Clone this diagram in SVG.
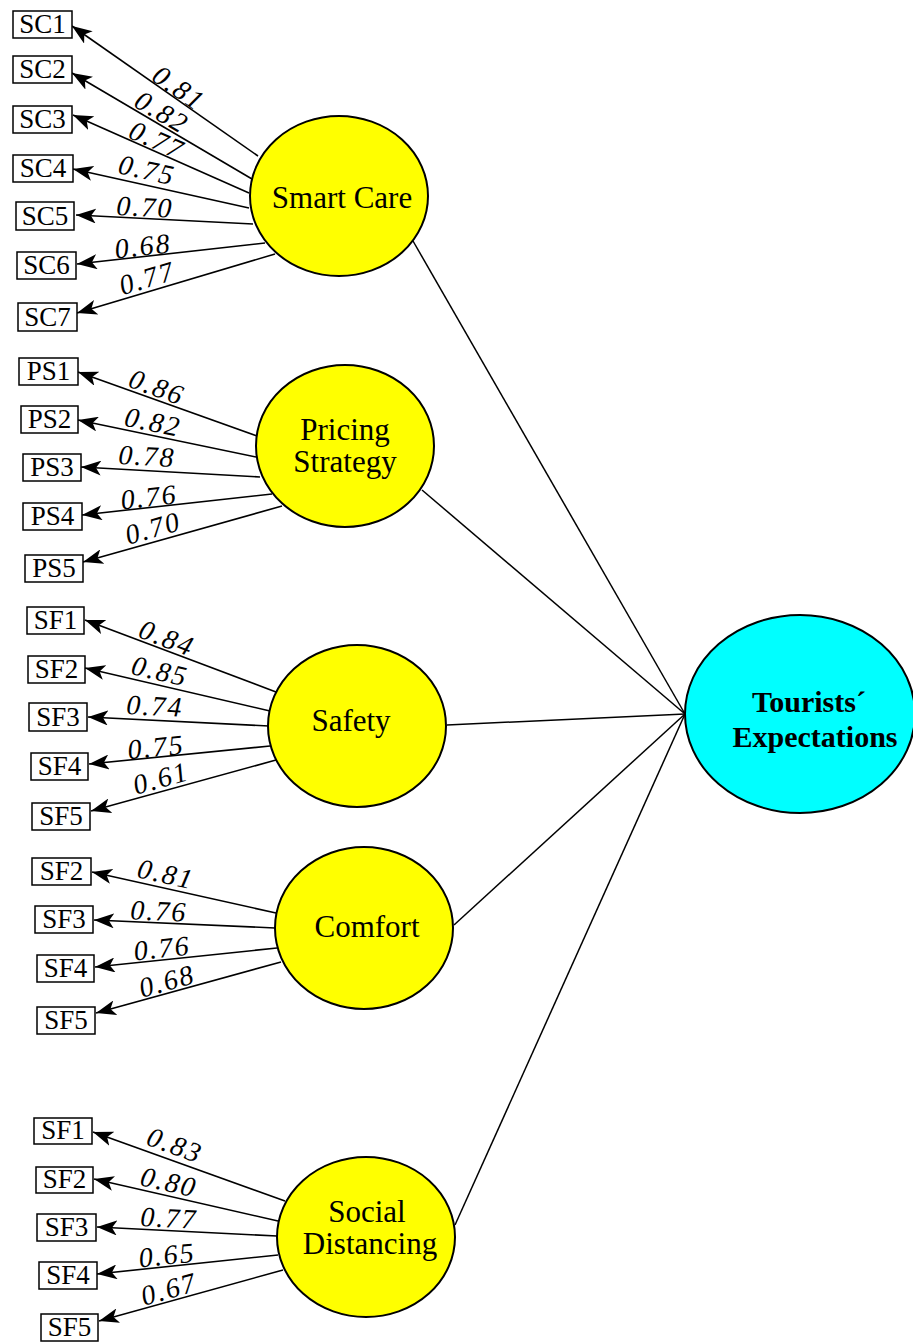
<svg xmlns="http://www.w3.org/2000/svg" width="913" height="1342" viewBox="0 0 913 1342">
<style>
.box{fill:#fff;stroke:#000;stroke-width:1.5}
.bt{font-family:"Liberation Serif",serif;font-size:27px;text-anchor:middle;fill:#000}
.lat{fill:#FFFF00;stroke:#000;stroke-width:2}
.lt{font-family:"Liberation Serif",serif;font-size:31px;text-anchor:middle;fill:#000}
.tour{fill:#00FFFF;stroke:#000;stroke-width:2}
.tt{font-family:"Liberation Serif",serif;font-size:30px;font-weight:bold;text-anchor:middle;fill:#000}
.ld{stroke:#000;stroke-width:1.6;fill:none;marker-end:url(#ah)}
.pth{stroke:#000;stroke-width:1.5;fill:none}
.lab{font-family:"Liberation Serif",serif;font-size:28px;font-style:italic;text-anchor:middle;dominant-baseline:central;letter-spacing:2px;fill:#000}
</style>
<defs>
<marker id="ah" markerUnits="userSpaceOnUse" markerWidth="20" markerHeight="15" viewBox="0 0 20 15" refX="20" refY="7.5" orient="auto">
<path d="M0,0 L20,7.5 L0,15 L5,7.5 z" fill="#000"/>
</marker>
</defs>

<g id="connectors">
<line class="pth" x1="413" y1="241" x2="685" y2="714"/>
<line class="pth" x1="422" y1="490" x2="685" y2="714"/>
<line class="pth" x1="447" y1="725" x2="685" y2="714"/>
<line class="pth" x1="454" y1="925" x2="685" y2="714"/>
<line class="pth" x1="455" y1="1225" x2="685" y2="714"/>

<line class="ld" x1="258" y1="156" x2="72" y2="26"/>
<line class="ld" x1="252" y1="179" x2="72" y2="73"/>
<line class="ld" x1="249" y1="193" x2="73" y2="115"/>
<line class="ld" x1="249" y1="208" x2="73" y2="169"/>
<line class="ld" x1="253" y1="224" x2="76" y2="215"/>
<line class="ld" x1="265" y1="243" x2="77" y2="264"/>
<line class="ld" x1="275" y1="254" x2="77" y2="313"/>

<line class="ld" x1="257" y1="436" x2="78" y2="372"/>
<line class="ld" x1="256" y1="457" x2="78" y2="420"/>
<line class="ld" x1="260" y1="477" x2="81" y2="467"/>
<line class="ld" x1="272" y1="494" x2="82" y2="515"/>
<line class="ld" x1="282" y1="506" x2="83" y2="562"/>

<line class="ld" x1="276" y1="692" x2="85" y2="620"/>
<line class="ld" x1="270" y1="711" x2="85" y2="668"/>
<line class="ld" x1="269" y1="726" x2="88" y2="717"/>
<line class="ld" x1="270" y1="746" x2="89" y2="764"/>
<line class="ld" x1="276" y1="760" x2="91" y2="811"/>

<line class="ld" x1="276" y1="913" x2="92" y2="872"/>
<line class="ld" x1="275" y1="928" x2="94" y2="920"/>
<line class="ld" x1="277" y1="948" x2="95" y2="967"/>
<line class="ld" x1="281" y1="962" x2="96" y2="1013"/>

<line class="ld" x1="285" y1="1201" x2="93" y2="1132"/>
<line class="ld" x1="278" y1="1221" x2="94" y2="1179"/>
<line class="ld" x1="277" y1="1236" x2="97" y2="1227"/>
<line class="ld" x1="278" y1="1255" x2="97" y2="1274"/>
<line class="ld" x1="283" y1="1270" x2="99" y2="1321"/>

<text class="lab" x="179" y="88" transform="rotate(34.9 179 88)">0.81</text>
<text class="lab" x="162" y="112" transform="rotate(30.5 162 112)">0.82</text>
<text class="lab" x="157" y="140" transform="rotate(23.9 157 140)">0.77</text>
<text class="lab" x="147" y="170" transform="rotate(12.5 147 170)">0.75</text>
<text class="lab" x="145" y="207" transform="rotate(2.9 145 207)">0.70</text>
<text class="lab" x="143" y="246" transform="rotate(-6.4 143 246)">0.68</text>
<text class="lab" x="147" y="278" transform="rotate(-16.6 147 278)">0.77</text>

<text class="lab" x="157" y="387" transform="rotate(19.7 157 387)">0.86</text>
<text class="lab" x="153" y="422" transform="rotate(11.7 153 422)">0.82</text>
<text class="lab" x="147" y="456" transform="rotate(3.2 147 456)">0.78</text>
<text class="lab" x="149" y="497" transform="rotate(-6.3 149 497)">0.76</text>
<text class="lab" x="153" y="528" transform="rotate(-15.7 153 528)">0.70</text>

<text class="lab" x="167" y="638" transform="rotate(20.7 167 638)">0.84</text>
<text class="lab" x="160" y="671" transform="rotate(13.1 160 671)">0.85</text>
<text class="lab" x="155" y="706" transform="rotate(2.8 155 706)">0.74</text>
<text class="lab" x="156" y="747" transform="rotate(-5.7 156 747)">0.75</text>
<text class="lab" x="161" y="778" transform="rotate(-15.4 161 778)">0.61</text>

<text class="lab" x="166" y="874" transform="rotate(12.6 166 874)">0.81</text>
<text class="lab" x="159" y="911" transform="rotate(2.5 159 911)">0.76</text>
<text class="lab" x="162" y="948" transform="rotate(-6 162 948)">0.76</text>
<text class="lab" x="167" y="981" transform="rotate(-15.4 167 981)">0.68</text>

<text class="lab" x="175" y="1145" transform="rotate(19.8 175 1145)">0.83</text>
<text class="lab" x="169" y="1182" transform="rotate(12.9 169 1182)">0.80</text>
<text class="lab" x="169" y="1218" transform="rotate(2.9 169 1218)">0.77</text>
<text class="lab" x="167" y="1255" transform="rotate(-6 167 1255)">0.65</text>
<text class="lab" x="169" y="1289" transform="rotate(-15.5 169 1289)">0.67</text>
</g>

<g id="smart-care"><ellipse class="lat" cx="339" cy="196" rx="89" ry="80"/><text class="lt" x="342" y="208">Smart Care</text></g>
<g id="pricing-strategy"><ellipse class="lat" cx="345" cy="446" rx="89" ry="81"/><text class="lt" x="345" y="440">Pricing</text><text class="lt" x="345" y="472">Strategy</text></g>
<g id="safety"><ellipse class="lat" cx="357" cy="726" rx="89" ry="81"/><text class="lt" x="351" y="731">Safety</text></g>
<g id="comfort"><ellipse class="lat" cx="364" cy="928" rx="89" ry="81"/><text class="lt" x="367" y="937">Comfort</text></g>
<g id="social-distancing"><ellipse class="lat" cx="366" cy="1237" rx="89" ry="80"/><text class="lt" x="367" y="1222">Social</text><text class="lt" x="370" y="1254">Distancing</text></g>
<g id="tourists-expectations"><ellipse class="tour" cx="800" cy="714" rx="115" ry="99"/><text class="tt" x="809" y="712">Tourists´</text><text class="tt" x="815" y="747">Expectations</text></g>

<g id="sc1"><rect class="box" x="13" y="11" width="59" height="27"/><text class="bt" x="42.5" y="33">SC1</text></g>
<g id="sc2"><rect class="box" x="13" y="56" width="59" height="27"/><text class="bt" x="42.5" y="78">SC2</text></g>
<g id="sc3"><rect class="box" x="13" y="106" width="59" height="27"/><text class="bt" x="42.5" y="128">SC3</text></g>
<g id="sc4"><rect class="box" x="13" y="155" width="60" height="27"/><text class="bt" x="43" y="177">SC4</text></g>
<g id="sc5"><rect class="box" x="16" y="202" width="58" height="28"/><text class="bt" x="45" y="225">SC5</text></g>
<g id="sc6"><rect class="box" x="17" y="252" width="59" height="27"/><text class="bt" x="46.5" y="274">SC6</text></g>
<g id="sc7"><rect class="box" x="18" y="303" width="59" height="28"/><text class="bt" x="47.5" y="326">SC7</text></g>

<g id="ps1"><rect class="box" x="19" y="358" width="59" height="27"/><text class="bt" x="48.5" y="380">PS1</text></g>
<g id="ps2"><rect class="box" x="21" y="406" width="57" height="27"/><text class="bt" x="49.5" y="428">PS2</text></g>
<g id="ps3"><rect class="box" x="23" y="454" width="58" height="27"/><text class="bt" x="52" y="476">PS3</text></g>
<g id="ps4"><rect class="box" x="23" y="503" width="59" height="27"/><text class="bt" x="52.5" y="525">PS4</text></g>
<g id="ps5"><rect class="box" x="25" y="555" width="58" height="27"/><text class="bt" x="54" y="577">PS5</text></g>

<g id="safety-sf1"><rect class="box" x="27" y="607" width="57" height="27"/><text class="bt" x="55.5" y="629">SF1</text></g>
<g id="safety-sf2"><rect class="box" x="28" y="656" width="57" height="27"/><text class="bt" x="56.5" y="678">SF2</text></g>
<g id="safety-sf3"><rect class="box" x="29" y="703" width="58" height="28"/><text class="bt" x="58" y="726">SF3</text></g>
<g id="safety-sf4"><rect class="box" x="31" y="753" width="57" height="27"/><text class="bt" x="59.5" y="775">SF4</text></g>
<g id="safety-sf5"><rect class="box" x="32" y="803" width="58" height="27"/><text class="bt" x="61" y="825">SF5</text></g>

<g id="comfort-sf2"><rect class="box" x="32" y="858" width="59" height="27"/><text class="bt" x="61.5" y="880">SF2</text></g>
<g id="comfort-sf3"><rect class="box" x="35" y="906" width="58" height="27"/><text class="bt" x="64" y="928">SF3</text></g>
<g id="comfort-sf4"><rect class="box" x="37" y="955" width="57" height="27"/><text class="bt" x="65.5" y="977">SF4</text></g>
<g id="comfort-sf5"><rect class="box" x="37" y="1007" width="58" height="27"/><text class="bt" x="66" y="1029">SF5</text></g>

<g id="social-sf1"><rect class="box" x="34" y="1118" width="58" height="26"/><text class="bt" x="63" y="1139">SF1</text></g>
<g id="social-sf2"><rect class="box" x="36" y="1167" width="57" height="26"/><text class="bt" x="64.5" y="1188">SF2</text></g>
<g id="social-sf3"><rect class="box" x="37" y="1214" width="59" height="27"/><text class="bt" x="66.5" y="1236">SF3</text></g>
<g id="social-sf4"><rect class="box" x="39" y="1262" width="58" height="27"/><text class="bt" x="68" y="1284">SF4</text></g>
<g id="social-sf5"><rect class="box" x="41" y="1314" width="57" height="27"/><text class="bt" x="69.5" y="1336">SF5</text></g>
</svg>
